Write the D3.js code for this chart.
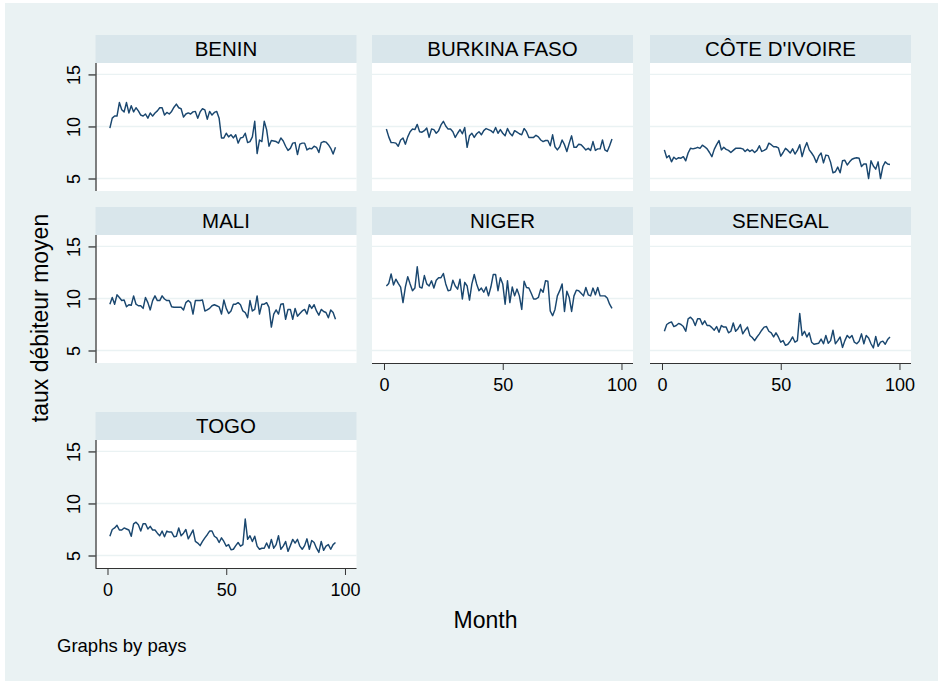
<!DOCTYPE html>
<html>
<head>
<meta charset="utf-8">
<script src="https://cdn.jsdelivr.net/npm/d3@7"></script>
<style>
    body { margin: 0; background: #ffffff; }
    text { font-family: "Liberation Sans", Arial, sans-serif; fill: #000000; }
</style>
</head>
<body>
<div id="chart"></div>
<script>
// Monthly average lending rate, one series per country (months 1..96)
const countries = ["BENIN", "BURKINA FASO", "CÔTE D'IVOIRE", "MALI", "NIGER", "SENEGAL", "TOGO"];

const benin = [
    9.84, 10.8, 11.0, 11.0, 12.3, 11.6, 11.4, 12.3, 11.3, 12.0,
    11.4, 11.8, 11.5, 11.1, 11.0, 11.2, 10.8, 11.3, 11.0, 11.3,
    11.5, 11.8, 11.8, 11.1, 11.35, 11.2, 11.45, 11.85, 12.15, 11.8,
    11.7, 10.9, 11.2, 11.3, 11.2, 11.4, 11.45, 10.8, 11.4, 11.7,
    11.6, 10.7, 11.45, 11.1, 11.35, 11.45, 10.8, 8.9, 8.9, 9.35,
    9.0, 9.2, 8.9, 9.2, 8.4, 8.9, 8.95, 9.35, 8.45, 8.55,
    9.0, 10.5, 7.4, 8.7, 8.55, 10.5, 9.7, 8.1, 8.65, 8.6,
    8.55, 8.4, 8.9, 8.6, 8.1, 7.7, 7.9, 8.4, 8.45, 7.3,
    8.3, 8.4, 8.4, 7.75, 7.9, 7.85, 8.1, 8.0, 7.5, 8.45,
    8.55, 8.5, 8.25, 7.9, 7.35, 8.0];

const burkina = [
    9.75, 9.0, 8.45, 8.45, 8.4, 8.1, 8.7, 8.9, 8.3, 9.0,
    9.5, 9.75, 9.7, 10.2, 9.5, 9.45, 9.6, 9.85, 8.95, 9.75,
    9.7, 9.35, 9.6, 10.15, 10.5, 10.05, 9.75, 9.75, 9.5, 8.95,
    9.35, 9.7, 9.3, 9.9, 8.0, 9.1, 9.35, 8.95, 9.3, 9.5,
    9.2, 9.6, 9.8, 9.7, 9.6, 9.4, 9.9, 9.35, 9.7, 9.35,
    9.1, 9.8, 9.35, 9.1, 9.6, 9.45, 9.3, 9.2, 9.8, 9.5,
    8.95, 8.95, 8.95, 9.15, 9.0, 8.7, 8.55, 8.65, 8.65, 8.15,
    9.2, 8.05, 7.75, 8.05, 8.7, 8.25, 7.6, 8.4, 9.1, 8.0,
    8.0, 8.3, 8.25, 8.0, 7.75, 7.9, 7.7, 8.55, 7.7, 7.85,
    7.85, 8.7, 7.75, 7.6, 8.15, 8.8];

const coteIvoire = [
    7.75, 7.0, 7.2, 6.6, 7.05, 6.85, 7.0, 6.95, 7.1, 6.7,
    7.45, 7.9, 7.85, 7.9, 8.0, 7.9, 8.2, 8.05, 7.85, 7.5,
    7.1, 7.8, 8.25, 8.65, 7.75, 8.0, 7.8, 7.7, 7.5, 7.7,
    7.9, 7.9, 7.9, 7.85, 7.6, 7.8, 7.6, 7.75, 7.5, 7.7,
    8.15, 7.6, 7.7, 7.85, 8.4, 8.25, 8.05, 8.05, 7.95, 7.15,
    7.5, 7.9, 7.7, 7.45, 7.85, 7.35, 7.7, 8.25, 7.1, 7.9,
    8.45, 7.75, 7.45, 7.1, 6.55, 7.15, 7.45, 6.5, 7.25, 7.2,
    6.55, 5.55, 5.65, 6.1, 5.55, 6.7, 6.75, 6.3, 6.6, 6.85,
    6.95, 7.0, 6.95, 6.15, 6.4, 6.4, 5.0, 6.7, 6.2, 5.9,
    6.6, 5.0, 6.15, 6.6, 6.4, 6.35];

const mali = [
    9.45, 10.1, 9.45, 10.35, 10.1, 9.8, 9.85, 9.2, 9.4, 9.35,
    10.25, 9.45, 9.3, 9.3, 9.05, 10.1, 9.6, 8.9, 9.8, 10.25,
    9.8, 9.8, 10.25, 9.95, 9.8, 9.8, 9.2, 9.15, 9.15, 9.15,
    9.15, 8.9, 9.6, 9.8, 9.6, 8.5, 9.8, 9.8, 9.8, 9.85,
    8.8, 8.9, 9.05, 9.3, 9.4, 9.3, 9.2, 8.5, 9.85, 9.05,
    8.55, 8.8, 9.45, 9.45, 9.6, 9.4, 8.8, 8.65, 8.15, 9.8,
    8.8, 8.95, 10.25, 8.5, 9.45, 9.45, 9.6, 9.15, 7.25, 8.5,
    8.9, 8.5, 9.45, 9.5, 8.0, 8.95, 8.95, 8.0, 9.05, 8.3,
    8.55, 8.8, 8.95, 8.5, 9.4, 9.05, 9.4, 8.8, 8.4, 8.95,
    8.75, 8.65, 8.15, 8.9, 8.65, 8.0];

const niger = [
    11.2, 11.45, 12.35, 11.3, 11.85, 11.45, 11.1, 9.6, 11.1, 12.1,
    11.4, 10.75, 11.0, 13.05, 11.1, 11.0, 12.2, 11.4, 11.2, 11.7,
    11.0, 11.75, 12.0, 12.0, 12.4, 11.4, 10.75, 10.8, 11.75, 11.2,
    10.9, 11.85, 9.95, 11.55, 11.2, 9.85, 11.4, 12.3, 11.4, 10.75,
    11.0, 10.6, 11.1, 10.25, 11.1, 12.3, 12.3, 10.75, 12.0, 11.4,
    9.45, 11.7, 9.6, 11.1, 10.25, 10.9, 10.25, 8.95, 11.65, 11.05,
    11.0, 10.5, 9.95, 9.95, 10.1, 10.9, 10.6, 11.7, 11.65, 8.8,
    8.35, 8.95, 10.25, 10.75, 11.4, 8.75, 10.7, 10.1, 8.75, 10.25,
    10.8, 10.75, 10.5, 10.25, 11.05, 10.35, 10.25, 11.0, 10.35, 11.05,
    10.25, 10.25, 10.25, 10.05, 9.45, 9.05];

const senegal = [
    6.85, 7.5, 7.65, 7.75, 7.3, 7.4, 7.6, 7.5, 7.3, 6.85,
    8.05, 8.2, 7.95, 7.4, 8.05, 8.05, 7.5, 7.85, 7.4, 7.4,
    7.2, 6.95, 7.3, 6.75, 7.4, 7.25, 7.25, 6.7, 6.85, 7.65,
    6.85, 7.1, 7.5, 6.6, 6.95, 7.25, 6.45, 6.25, 5.95, 6.3,
    6.6, 6.95, 7.25, 7.3, 6.85, 6.7, 6.3, 6.7, 6.3, 5.8,
    5.95, 5.5, 5.6, 5.9, 6.3, 5.8, 5.95, 8.55, 6.45, 6.85,
    6.3, 6.7, 5.8, 5.6, 5.65, 5.7, 6.1, 5.65, 6.45, 5.7,
    5.95, 6.95, 5.65, 5.95, 6.3, 5.3, 5.95, 6.45, 6.2, 6.45,
    5.8, 5.65, 5.9, 6.6, 5.65, 6.45, 6.2, 5.65, 5.25, 6.35,
    5.4, 5.8, 5.9, 5.6, 6.05, 6.3];

const togo = [
    6.85, 7.5, 7.65, 7.9, 7.45, 7.45, 7.65, 7.55, 7.45, 6.85,
    8.05, 8.2, 7.95, 7.35, 8.05, 8.05, 7.55, 7.8, 7.45, 7.45,
    7.15, 6.9, 7.35, 6.8, 7.35, 7.25, 7.25, 6.8, 6.85, 7.65,
    6.9, 7.15, 7.5, 6.6, 7.0, 7.45, 6.35, 6.2, 5.95, 6.35,
    6.7, 7.0, 7.35, 7.35, 6.85, 6.7, 6.25, 6.7, 6.35, 5.9,
    6.05, 5.55, 5.6, 5.95, 6.25, 5.9, 6.05, 8.5, 6.55, 6.9,
    6.35, 6.85, 5.9, 5.6, 5.7, 5.7, 6.2, 5.7, 6.55, 5.7,
    6.05, 6.9, 5.6, 5.9, 6.35, 5.4, 5.95, 6.55, 6.2, 6.55,
    5.9, 5.6, 5.95, 6.6, 5.6, 6.45, 6.25, 5.7, 5.3, 6.35,
    5.5, 5.9, 6.05, 5.6, 6.05, 6.25];

const yTicks = [5, 10, 15];
const xTicks = [0, 50, 100];
const yTitle = "taux débiteur moyen";
const xTitle = "Month";
const note = "Graphs by pays";

// Layout
const W = 938, H = 681;
const colX = [95.5, 372, 650];
const rowY = [35, 207, 412];
const panelW = 261, headH = 28, plotH = 128;
const NAVY = "#1a476f", BG = "#eaf2f3", HEAD = "#d9e6eb";

const seriesList = [benin, burkina, coteIvoire, mali, niger, senegal, togo];
const panels = countries.map((name, i) => ({
    name: name,
    values: seriesList[i],
    col: i % 3,
    row: Math.floor(i / 3)
}));

const svg = d3.select("#chart")
    .append("svg")
    .attr("width", W)
    .attr("height", H);

// Outer background (thin white edge on top/left like the original)
svg.append("rect")
    .attr("x", 5).attr("y", 3)
    .attr("width", W - 5).attr("height", H - 3)
    .attr("fill", BG);

var x = d3.scaleLinear().domain([-5.05, 104.85]).range([0, panelW]);
var y = d3.scaleLinear().domain([3.8, 16.1]).range([plotH, 0]);

var line = d3.line()
    .x((d, i) => x(i + 1))
    .y(d => y(d));

panels.forEach(function(p) {
    const g = svg.append("g")
        .attr("transform", "translate(" + colX[p.col] + "," + rowY[p.row] + ")");

    // Header strip
    g.append("rect")
        .attr("width", panelW).attr("height", headH)
        .attr("fill", HEAD);
    g.append("text")
        .attr("x", panelW / 2).attr("y", headH / 2)
        .attr("dy", "0.36em")
        .attr("text-anchor", "middle")
        .style("font-size", "20.5px")
        .text(p.name);

    const plot = g.append("g").attr("transform", "translate(0," + headH + ")");
    plot.append("rect")
        .attr("width", panelW).attr("height", plotH)
        .attr("fill", "#ffffff");

    // Grid lines
    plot.selectAll(".grid")
        .data(yTicks)
        .enter()
        .append("line")
        .attr("x1", 0).attr("x2", panelW)
        .attr("y1", d => y(d)).attr("y2", d => y(d))
        .attr("stroke", BG)
        .attr("stroke-width", 1.3);

    plot.append("path")
        .datum(p.values)
        .attr("d", line)
        .attr("fill", "none")
        .attr("stroke", NAVY)
        .attr("stroke-width", 1.45)
        .attr("stroke-linejoin", "round");

    // Y axis only on the first column
    if (p.col === 0) {
        const ya = plot.append("g")
            .call(d3.axisLeft(y).tickValues(yTicks).tickSize(7).tickFormat(""));
        ya.select(".domain").attr("stroke", "#000").attr("d", "M0.5,0V" + plotH);
        ya.selectAll(".tick line").attr("stroke", "#000");
        ya.selectAll(".tick")
            .append("text")
            .attr("transform", "translate(-22,0) rotate(-90)")
            .attr("text-anchor", "middle")
            .attr("dy", "0.36em")
            .attr("fill", "#000")
            .style("font-size", "18px")
            .text(d => d);
    }

    // X axis on the bottom panel of each column
    const isBottom = (p.row === 2) || (p.row === 1 && p.col > 0);
    if (isBottom) {
        const xa = plot.append("g")
            .attr("transform", "translate(0," + plotH + ")")
            .call(d3.axisBottom(x).tickValues(xTicks).tickSize(7).tickFormat(""));
        xa.select(".domain").attr("stroke", "#333").attr("d", "M0,0.5H" + panelW);
        xa.selectAll(".tick line").attr("stroke", "#333");
        xa.selectAll(".tick")
            .append("text")
            .attr("y", 22)
            .attr("dy", "0.36em")
            .attr("text-anchor", "middle")
            .attr("fill", "#000")
            .style("font-size", "18px")
            .text(d => d);
    }
    g.selectAll(".tick text").style("font-family", "'Liberation Sans', Arial, sans-serif");
});

// Axis titles and note
svg.append("text")
    .attr("transform", "translate(40,318) rotate(-90)")
    .attr("text-anchor", "middle")
    .attr("dy", "0.36em")
    .style("font-size", "23px")
    .text(yTitle);

svg.append("text")
    .attr("x", 485.5).attr("y", 628)
    .attr("text-anchor", "middle")
    .style("font-size", "23px")
    .text(xTitle);

svg.append("text")
    .attr("x", 57).attr("y", 652)
    .style("font-size", "18.5px")
    .text(note);
</script>
</body>
</html>
